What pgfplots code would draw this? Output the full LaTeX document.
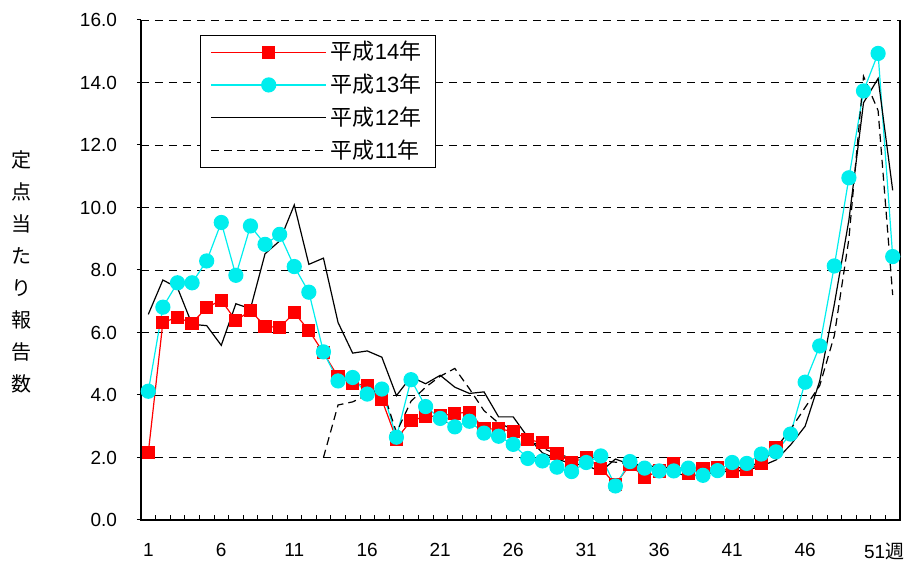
\documentclass[border=0pt]{standalone}
\usepackage{pgfplots}
\pgfplotsset{compat=1.18}
\usepackage{pgfplotstable}
\usepackage{fontspec}
\setmainfont{Liberation Sans}
\newfontfamily\cjk{Noto Sans CJK JP}
\definecolor{cy}{RGB}{0,238,238}

\pgfplotstableread{
w v
1 2.15
2 6.33
3 6.48
4 6.30
5 6.80
6 7.03
7 6.38
8 6.70
9 6.20
10 6.16
11 6.63
12 6.07
13 5.35
14 4.58
15 4.38
16 4.29
17 3.85
18 2.59
19 3.18
20 3.31
21 3.33
22 3.41
23 3.45
24 2.91
25 2.92
26 2.83
27 2.58
28 2.47
29 2.13
30 1.84
31 2.01
32 1.66
33 1.14
34 1.77
35 1.37
36 1.57
37 1.80
38 1.49
39 1.64
40 1.68
41 1.54
42 1.62
43 1.81
44 2.31
}\hfourteen

\pgfplotstableread{
w v
1 4.12
2 6.81
3 7.59
4 7.59
5 8.29
6 9.52
7 7.83
8 9.41
9 8.82
10 9.14
11 8.11
12 7.29
13 5.38
14 4.45
15 4.56
16 4.03
17 4.19
18 2.65
19 4.49
20 3.63
21 3.25
22 2.98
23 3.16
24 2.78
25 2.68
26 2.42
27 1.97
28 1.89
29 1.69
30 1.55
31 1.84
32 2.05
33 1.09
34 1.87
35 1.66
36 1.57
37 1.57
38 1.66
39 1.43
40 1.58
41 1.84
42 1.81
43 2.11
44 2.18
45 2.75
46 4.41
47 5.57
48 8.13
49 10.95
50 13.73
51 14.93
52 8.43
}\hthirteen

\pgfplotstableread{
w v
1 6.58
2 7.68
3 7.43
4 6.26
5 6.22
6 5.59
7 6.92
8 6.76
9 8.52
10 8.93
11 10.08
12 8.18
13 8.38
14 6.32
15 5.34
16 5.41
17 5.21
18 3.98
19 4.58
20 4.36
21 4.63
22 4.25
23 4.05
24 4.10
25 3.30
26 3.30
27 2.65
28 2.15
29 1.95
30 1.80
31 1.75
32 1.55
33 1.95
34 1.78
35 1.70
36 1.60
37 1.50
38 1.42
39 1.45
40 1.55
41 1.55
42 1.60
43 1.72
44 1.92
45 2.40
46 3.00
47 4.45
48 6.90
49 9.60
50 13.35
51 14.13
52 10.55
}\htwelve

\pgfplotstableread{
w v
13 2.00
14 3.68
15 3.78
16 4.00
17 4.25
18 2.80
19 3.80
20 4.25
21 4.60
22 4.85
23 4.20
24 3.50
25 3.10
26 2.90
27 2.60
28 2.30
29 2.10
30 2.00
31 1.95
32 1.90
33 1.85
34 1.80
35 1.75
36 1.70
37 1.65
38 1.60
39 1.60
40 1.60
41 1.65
42 1.70
43 1.85
44 2.30
45 2.90
46 3.60
47 4.30
48 5.90
49 9.00
50 14.20
51 13.10
52 7.20
}\heleven

\begin{document}
\begin{tikzpicture}
\begin{axis}[
  name=ax,
  scale only axis,
  width=379.5pt, height=250pt,
  xmin=0.5, xmax=52.5,
  ymin=0, ymax=16,
  axis line style={draw=none},
  xtick={1,6,11,16,21,26,31,36,41,46,51},
  xticklabels={1,6,11,16,21,26,31,36,41,46,{\hspace*{6pt}51{\cjk 週}}},
  minor xtick={0.5,1.5,...,52.5},
  xtick pos=bottom,
  major x tick style={draw=none},
  minor x tick style={black, line width=0.4pt},
  minor tick length=2.5pt,
  xtick align=inside,
  ytick={0,2,...,16},
  ytick pos=left,
  ytick align=outside,
  major tick length=2pt,
  y tick style={black, line width=0.5pt},
  ymajorgrids,
  grid style={black, dash pattern=on 4pt off 3pt, line width=0.45pt},
  tick label style={font=\fontsize{9.5}{11}\selectfont},
  yticklabel style={xshift=-6.5pt},
  xticklabel style={yshift=-8pt},
  /pgf/number format/.cd, fixed, fixed zerofill, precision=1, assume math mode=true,
  /pgfplots/.cd,
  legend style={at={(0.078,0.97)}, anchor=north west, fill=white,
    font=\fontsize{11}{12}\selectfont, row sep=1.6pt, inner xsep=5pt, inner ysep=1pt,
    cells={anchor=west}},
  clip=false,
]
\addplot[draw=red, line width=0.6pt, mark=square*, mark size=3pt, mark options={solid, fill=red, draw=red},
  legend image code/.code={\draw[red, line width=0.6pt, mark=square*, mark size=3pt, mark options={fill=red,draw=red}, mark repeat=2, mark phase=2] plot coordinates {(0pt,0pt) (28.75pt,0pt) (57.5pt,0pt)};}] table[x=w,y=v] {\hfourteen};
\addlegendentry{{\cjk 平成}14{\cjk 年}}
\addplot[draw=cy, line width=0.6pt, mark=*, mark size=3.5pt, mark options={solid, fill=cy, draw=cy},
  legend image code/.code={\draw[cy, line width=0.6pt, mark=*, mark size=3.5pt, mark options={fill=cy,draw=cy}, mark repeat=2, mark phase=2] plot coordinates {(0pt,0pt) (28.75pt,0pt) (57.5pt,0pt)};}] table[x=w,y=v] {\hthirteen};
\addlegendentry{{\cjk 平成}13{\cjk 年}}
\addplot[draw=black, line width=0.6pt, no marks,
  legend image code/.code={\draw[black, line width=0.6pt] (0pt,0pt) -- (57.5pt,0pt);}] table[x=w,y=v] {\htwelve};
\addlegendentry{{\cjk 平成}12{\cjk 年}}
\addplot[draw=black, line width=0.6pt, no marks, dash pattern=on 4pt off 2.5pt,
  legend image code/.code={\draw[black, line width=0.6pt, dash pattern=on 4pt off 2.5pt] (0pt,0pt) -- (57.5pt,0pt);}] table[x=w,y=v] {\heleven};
\addlegendentry{{\cjk 平成}11{\cjk 年}}
\draw[black, line width=0.8pt] (rel axis cs:0,1) -- (rel axis cs:0,0) -- (rel axis cs:1,0) -- (rel axis cs:1,1);
\node[font=\cjk\fontsize{10}{16}\selectfont, align=center] at ([xshift=-59.5pt]rel axis cs:0,0.496) {定\\点\\当\\た\\り\\報\\告\\数};
\end{axis}
\pgfresetboundingbox
\path[use as bounding box] ([shift={(-70.5pt,-20.5pt)}]ax.south west) rectangle ([shift={(2pt,10pt)}]ax.north east);
\end{tikzpicture}
\end{document}
